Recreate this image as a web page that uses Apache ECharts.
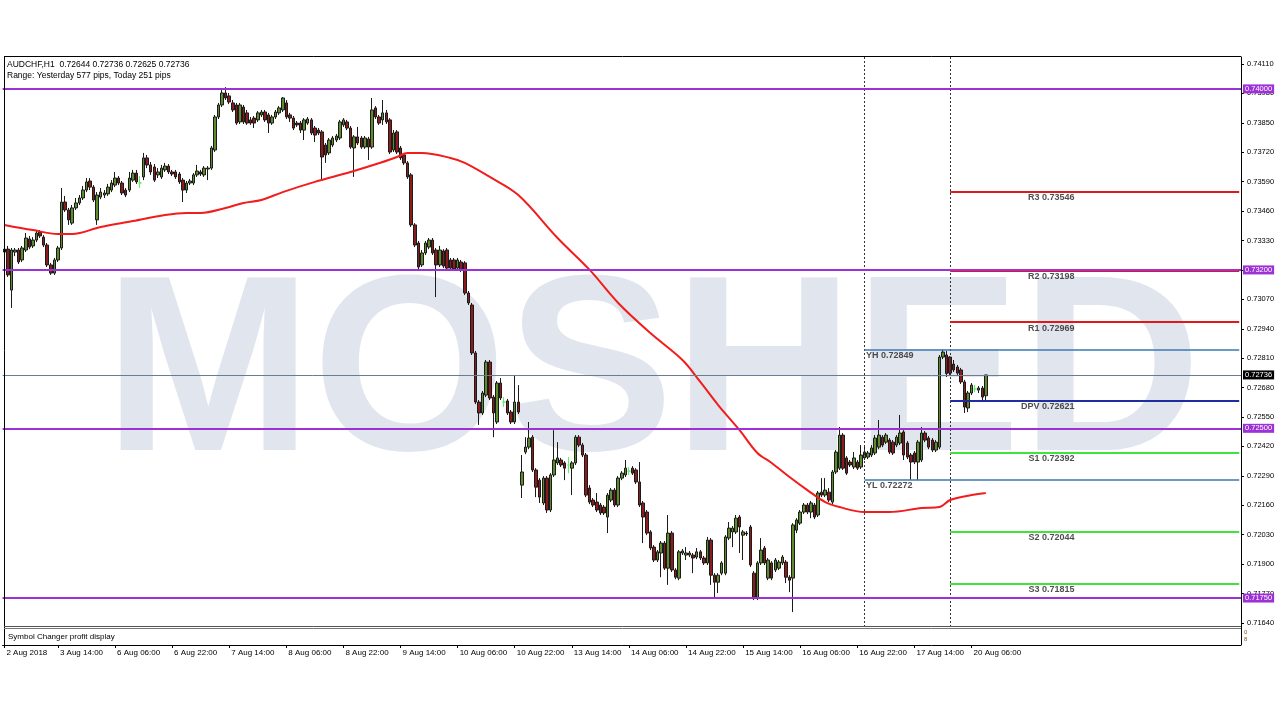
<!DOCTYPE html>
<html><head><meta charset="utf-8">
<script src="https://cdn.jsdelivr.net/npm/echarts@6/dist/echarts.min.js"></script>
<style>html,body{margin:0;padding:0;background:#fff}#c{width:1280px;height:720px}</style>
</head><body><div id="c"></div>
<script>
// ---------- DATA ----------
const symbolInfo = 'AUDCHF,H1  0.72644 0.72736 0.72625 0.72736';
const rangeInfo = 'Range: Yesterday 577 pips, Today 251 pips';
const subWindowTitle = 'Symbol Changer profit display';
const watermark = 'MOSHED';

// H1 candles [open, close, low, high]; 2 Aug 23:00 .. 3 Aug 23:00
const candlesAug2to3 = [
[0.73279,0.73292,0.73261,0.73306],[0.73292,0.73178,0.73169,0.73306],[0.73111,0.73288,0.73032,0.73297],[0.73279,0.73288,0.73261,0.73297],
[0.73288,0.73235,0.73226,0.73297],[0.73244,0.73297,0.73235,0.73306],[0.73288,0.73341,0.73279,0.73363],[0.73337,0.73301,0.73292,0.73350],
[0.73306,0.73332,0.73297,0.73345],[0.73332,0.73363,0.73323,0.73372],[0.73368,0.73350,0.73341,0.73376],[0.73345,0.73310,0.73301,0.73354],
[0.73310,0.73222,0.73213,0.73319],[0.73222,0.73186,0.73178,0.73231],[0.73186,0.73244,0.73178,0.73253],[0.73244,0.73297,0.73235,0.73306],
[0.73297,0.73500,0.73288,0.73562],[0.73500,0.73465,0.73456,0.73527],[0.73465,0.73421,0.73399,0.73474],[0.73407,0.73474,0.73399,0.73487],
[0.73474,0.73496,0.73465,0.73518],[0.73496,0.73518,0.73487,0.73531],[0.73518,0.73553,0.73509,0.73571],[0.73553,0.73589,0.73544,0.73606],
[0.73593,0.73566,0.73553,0.73606]
];
// 6 Aug 00:00 .. 10 Aug 23:00
const candlesAug6to10 = [
[0.73566,0.73509,0.73500,0.73575],[0.73421,0.73531,0.73399,0.73544],[0.73522,0.73544,0.73513,0.73562],[0.73531,0.73540,0.73518,0.73553],
[0.73536,0.73566,0.73527,0.73580],[0.73553,0.73584,0.73544,0.73597],[0.73575,0.73606,0.73566,0.73633],[0.73606,0.73584,0.73575,0.73615],
[0.73584,0.73540,0.73531,0.73593],[0.73553,0.73531,0.73522,0.73562],[0.73553,0.73606,0.73544,0.73633],[0.73597,0.73628,0.73589,0.73642],
[0.73628,0.73589,0.73580,0.73642],[0.73584,0.73584,0.73562,0.73615],[0.73611,0.73695,0.73597,0.73717],[0.73695,0.73664,0.73650,0.73708],
[0.73664,0.73633,0.73620,0.73677],[0.73655,0.73597,0.73589,0.73668],[0.73620,0.73633,0.73606,0.73650],[0.73611,0.73650,0.73602,0.73664],
[0.73642,0.73659,0.73633,0.73673],[0.73659,0.73633,0.73624,0.73668],[0.73633,0.73624,0.73615,0.73642],[0.73633,0.73611,0.73602,0.73642],
[0.73624,0.73589,0.73580,0.73633],[0.73597,0.73553,0.73500,0.73606],[0.73553,0.73584,0.73540,0.73593],[0.73584,0.73593,0.73575,0.73602],
[0.73584,0.73620,0.73575,0.73628],[0.73620,0.73637,0.73611,0.73664],[0.73633,0.73624,0.73615,0.73642],[0.73620,0.73650,0.73611,0.73659],
[0.73646,0.73650,0.73597,0.73659],[0.73650,0.73739,0.73642,0.73748],[0.73730,0.73876,0.73721,0.73885],[0.73876,0.73929,0.73867,0.73938],
[0.73929,0.73982,0.73920,0.73995],[0.73982,0.73960,0.73951,0.74008],[0.73969,0.73942,0.73933,0.73982],[0.73938,0.73907,0.73898,0.73951],
[0.73929,0.73849,0.73841,0.73938],[0.73854,0.73929,0.73845,0.73938],[0.73920,0.73854,0.73845,0.73929],[0.73894,0.73849,0.73841,0.73907],
[0.73863,0.73849,0.73841,0.73876],[0.73871,0.73849,0.73827,0.73880],[0.73863,0.73894,0.73854,0.73902],[0.73885,0.73898,0.73876,0.73907],
[0.73898,0.73863,0.73854,0.73907],[0.73885,0.73849,0.73805,0.73894],[0.73849,0.73876,0.73841,0.73885],[0.73876,0.73898,0.73867,0.73907],
[0.73894,0.73916,0.73885,0.73924],[0.73907,0.73960,0.73898,0.73964],[0.73938,0.73876,0.73867,0.73951],[0.73885,0.73871,0.73854,0.73894],
[0.73871,0.73827,0.73818,0.73880],[0.73849,0.73841,0.73832,0.73858],[0.73849,0.73818,0.73805,0.73858],[0.73818,0.73863,0.73774,0.73871],
[0.73849,0.73867,0.73841,0.73876],[0.73863,0.73805,0.73796,0.73871],[0.73827,0.73796,0.73765,0.73836],[0.73818,0.73805,0.73796,0.73827],
[0.73810,0.73699,0.73597,0.73818],[0.73752,0.73708,0.73673,0.73761],[0.73717,0.73774,0.73708,0.73783],[0.73752,0.73783,0.73743,0.73792],
[0.73774,0.73792,0.73765,0.73801],[0.73783,0.73854,0.73774,0.73863],[0.73841,0.73863,0.73832,0.73871],[0.73854,0.73827,0.73818,0.73863],
[0.73827,0.73743,0.73735,0.73836],[0.73739,0.73788,0.73611,0.73796],[0.73788,0.73761,0.73752,0.73832],[0.73783,0.73743,0.73735,0.73792],
[0.73743,0.73783,0.73735,0.73792],[0.73779,0.73743,0.73686,0.73788],[0.73743,0.73907,0.73735,0.73960],[0.73916,0.73876,0.73867,0.73924],
[0.73876,0.73849,0.73841,0.73885],[0.73863,0.73894,0.73841,0.73951],[0.73894,0.73854,0.73845,0.73907],[0.73863,0.73721,0.73712,0.73871],
[0.73730,0.73805,0.73721,0.73818],[0.73810,0.73721,0.73712,0.73818],[0.73739,0.73695,0.73686,0.73748],[0.73708,0.73673,0.73664,0.73717],
[0.73673,0.73611,0.73602,0.73681],[0.73620,0.73399,0.73390,0.73628],[0.73399,0.73310,0.73301,0.73407],[0.73319,0.73213,0.73204,0.73328],
[0.73222,0.73275,0.73213,0.73288],[0.73275,0.73319,0.73266,0.73328],[0.73301,0.73332,0.73292,0.73341],[0.73332,0.73275,0.73266,0.73341],
[0.73288,0.73222,0.73080,0.73297],[0.73222,0.73288,0.73213,0.73306],[0.73284,0.73217,0.73208,0.73292],[0.73288,0.73208,0.73200,0.73297],
[0.73244,0.73208,0.73200,0.73253],[0.73244,0.73204,0.73195,0.73253],[0.73208,0.73244,0.73200,0.73253],[0.73235,0.73200,0.73191,0.73244],
[0.73231,0.73098,0.73089,0.73239],[0.73098,0.73054,0.73045,0.73107],[0.73045,0.72833,0.72824,0.73054],[0.72833,0.72616,0.72607,0.72842],
[0.72616,0.72568,0.72515,0.72625],[0.72568,0.72656,0.72559,0.72665],[0.72647,0.72793,0.72638,0.72802],[0.72793,0.72634,0.72625,0.72802],
[0.72638,0.72568,0.72461,0.72647],[0.72528,0.72700,0.72519,0.72709],[0.72700,0.72634,0.72625,0.72722],[0.72616,0.72616,0.72594,0.72638],
[0.72621,0.72568,0.72559,0.72630],[0.72572,0.72528,0.72519,0.72581],[0.72528,0.72616,0.72519,0.72736],[0.72616,0.72572,0.72563,0.72691]
];
// 13 Aug 00:00 .. 17 Aug 23:00
const candlesAug13to17 = [
[0.72249,0.72307,0.72192,0.72382],[0.72395,0.72417,0.72386,0.72461],[0.72417,0.72457,0.72408,0.72528],[0.72461,0.72316,0.72307,0.72470],
[0.72316,0.72240,0.72196,0.72324],[0.72271,0.72196,0.72170,0.72280],[0.72170,0.72280,0.72161,0.72289],[0.72280,0.72139,0.72126,0.72289],
[0.72139,0.72294,0.72130,0.72302],[0.72294,0.72360,0.72285,0.72492],[0.72347,0.72369,0.72338,0.72439],[0.72360,0.72338,0.72329,0.72369],
[0.72347,0.72324,0.72271,0.72355],[0.72338,0.72338,0.72302,0.72373],[0.72324,0.72347,0.72205,0.72355],[0.72347,0.72461,0.72338,0.72470],
[0.72461,0.72426,0.72417,0.72470],[0.72426,0.72382,0.72373,0.72435],[0.72382,0.72205,0.72196,0.72391],[0.72236,0.72174,0.72165,0.72249],
[0.72183,0.72161,0.72152,0.72192],[0.72174,0.72139,0.72130,0.72214],[0.72161,0.72126,0.72117,0.72170],[0.72152,0.72126,0.72117,0.72161],
[0.72108,0.72205,0.72037,0.72214],[0.72183,0.72227,0.72174,0.72236],[0.72227,0.72161,0.72152,0.72236],[0.72161,0.72280,0.72152,0.72289],
[0.72280,0.72302,0.72271,0.72311],[0.72294,0.72324,0.72285,0.72360],[0.72311,0.72311,0.72294,0.72329],[0.72324,0.72302,0.72294,0.72333],
[0.72316,0.72263,0.72254,0.72324],[0.72263,0.72161,0.72152,0.72351],[0.72170,0.72108,0.71993,0.72179],[0.72130,0.72037,0.72028,0.72139],
[0.72042,0.71971,0.71962,0.72050],[0.71975,0.71918,0.71909,0.71984],[0.71918,0.71954,0.71909,0.71962],[0.71949,0.71993,0.71842,0.72002],
[0.71993,0.71882,0.71874,0.72002],[0.71882,0.72037,0.71808,0.72117],[0.72037,0.71874,0.71865,0.72046],[0.71874,0.71842,0.71833,0.71882],
[0.71838,0.71954,0.71829,0.71962],[0.71949,0.71958,0.71940,0.71967],[0.71940,0.71949,0.71918,0.71975],[0.71940,0.71949,0.71931,0.71958],
[0.71940,0.71927,0.71860,0.71949],[0.71931,0.71954,0.71922,0.71971],[0.71954,0.71927,0.71918,0.71962],[0.71927,0.71905,0.71896,0.71936],
[0.71905,0.72006,0.71896,0.72020],[0.72006,0.71851,0.71808,0.72015],[0.71851,0.71820,0.71750,0.71860],[0.71820,0.71851,0.71772,0.71860],
[0.71860,0.71905,0.71851,0.71913],[0.71860,0.72020,0.71851,0.72028],[0.72015,0.72059,0.72006,0.72086],[0.72042,0.72059,0.71975,0.72068],
[0.72042,0.72103,0.72033,0.72117],[0.72108,0.72064,0.71949,0.72117],[0.72028,0.72042,0.71918,0.72050],[0.72037,0.72033,0.72024,0.72046],
[0.72064,0.71896,0.71887,0.72073],[0.71860,0.71750,0.71741,0.71869],[0.71750,0.71905,0.71741,0.71913],[0.71905,0.71962,0.71896,0.72015],
[0.71971,0.71905,0.71896,0.71980],[0.71838,0.71918,0.71829,0.71927],[0.71905,0.71838,0.71829,0.71913],[0.71874,0.71918,0.71865,0.71927],
[0.71882,0.71909,0.71874,0.71918],[0.71905,0.71931,0.71896,0.71940],[0.71909,0.71842,0.71816,0.71918],[0.71842,0.71829,0.71776,0.71851],
[0.71838,0.72073,0.71688,0.72081],[0.72050,0.72095,0.72037,0.72103],[0.72081,0.72130,0.72073,0.72139],[0.72130,0.72161,0.72121,0.72170],
[0.72161,0.72130,0.72121,0.72170],[0.72130,0.72170,0.72103,0.72179],[0.72161,0.72108,0.72099,0.72170],[0.72117,0.72214,0.72108,0.72223],
[0.72218,0.72205,0.72196,0.72280],[0.72205,0.72227,0.72196,0.72280],[0.72218,0.72183,0.72174,0.72236],[0.72174,0.72307,0.72165,0.72316],
[0.72307,0.72395,0.72298,0.72404],[0.72324,0.72470,0.72316,0.72506],[0.72470,0.72324,0.72316,0.72479],[0.72369,0.72302,0.72294,0.72377],
[0.72351,0.72338,0.72329,0.72360],[0.72329,0.72369,0.72320,0.72395],[0.72351,0.72324,0.72316,0.72360],[0.72329,0.72382,0.72320,0.72426],
[0.72369,0.72395,0.72360,0.72426],[0.72373,0.72391,0.72364,0.72400],[0.72382,0.72413,0.72373,0.72426],[0.72391,0.72457,0.72382,0.72470],
[0.72417,0.72470,0.72408,0.72537],[0.72461,0.72426,0.72417,0.72470],[0.72439,0.72470,0.72431,0.72479],[0.72448,0.72395,0.72386,0.72457],
[0.72439,0.72391,0.72382,0.72448],[0.72426,0.72461,0.72417,0.72470],[0.72435,0.72479,0.72426,0.72559],[0.72484,0.72382,0.72360,0.72492],
[0.72435,0.72373,0.72364,0.72444],[0.72382,0.72351,0.72272,0.72391],[0.72391,0.72351,0.72342,0.72400],[0.72351,0.72439,0.72272,0.72448],
[0.72360,0.72479,0.72351,0.72506],[0.72479,0.72448,0.72439,0.72488],[0.72457,0.72417,0.72408,0.72466],[0.72448,0.72404,0.72395,0.72457],
[0.72404,0.72439,0.72395,0.72448],[0.72417,0.72815,0.72408,0.72824],[0.72815,0.72837,0.72806,0.72849],[0.72824,0.72742,0.72727,0.72842]
];
// 20 Aug 00:00 .. 10:00
const candlesAug20 = [
[0.72815,0.72744,0.72736,0.72819],[0.72784,0.72758,0.72749,0.72802],[0.72771,0.72744,0.72736,0.72780],[0.72758,0.72705,0.72696,0.72767],
[0.72705,0.72594,0.72568,0.72714],[0.72590,0.72656,0.72572,0.72665],[0.72656,0.72691,0.72647,0.72700],[0.72674,0.72674,0.72660,0.72691],
[0.72669,0.72678,0.72656,0.72687],[0.72678,0.72638,0.72616,0.72687],[0.72644,0.72736,0.72625,0.72736]
];
// moving average samples [bar index, value]
const maPoints = [
[0,0.73399],[8,0.73376],[15,0.73359],[19,0.73359],[27,0.73390],[36,0.73416],[45,0.73443],[51,0.73452],[55,0.73452],
[62,0.73474],[67,0.73496],[72,0.73509],[78,0.73544],[87,0.73589],[97,0.73633],[106,0.73677],[110,0.73699],[113,0.73717],
[117,0.73717],[125,0.73695],[129,0.73673],[136,0.73611],[144,0.73531],[155,0.73341],[164,0.73200],[172,0.73054],
[181,0.72921],[190,0.72802],[195,0.72705],[200,0.72603],[206,0.72492],[211,0.72391],[215,0.72347],[220,0.72285],
[225,0.72227],[230,0.72174],[234,0.72152],[241,0.72130],[248,0.72130],[257,0.72148],[262,0.72152],[265,0.72183],
[271,0.72205],[275,0.72214]
];
const levels = [0.74000, 0.73200, 0.72500, 0.71750];
const pivotNames = ['R3','R2','R1','DPV','S1','S2','S3'];
const pivotValues = [0.73546, 0.73198, 0.72969, 0.72621, 0.72392, 0.72044, 0.71815];
const yesterdayNames = ['YH','YL'];
const yesterdayValues = [0.72849, 0.72272];
const bidPrice = 0.72736;
const yTicks = [0.71640,0.71770,0.71900,0.72030,0.72160,0.72290,0.72420,0.72550,0.72680,0.72810,
                0.72940,0.73070,0.73200,0.73330,0.73460,0.73590,0.73720,0.73850,0.73980,0.74110];
const xTickIndex = [0,15,31,47,63,79,95,111,127,143,159,175,191,207,223,239,255,271];
const xTickLabels = ['2 Aug 2018','3 Aug 14:00','6 Aug 06:00','6 Aug 22:00','7 Aug 14:00','8 Aug 06:00','8 Aug 22:00',
  '9 Aug 14:00','10 Aug 06:00','10 Aug 22:00','13 Aug 14:00','14 Aug 06:00','14 Aug 22:00','15 Aug 14:00',
  '16 Aug 06:00','16 Aug 22:00','17 Aug 14:00','20 Aug 06:00'];
const daySeparators = [241, 265]; // 17 Aug 00:00, 20 Aug 00:00
const emptyBarsRight = 71;

// ---------- BUILD ----------
const candles = [].concat(candlesAug2to3, candlesAug6to10, candlesAug13to17, candlesAug20);
const months = ['Jan','Feb','Mar','Apr','May','Jun','Jul','Aug','Sep','Oct','Nov','Dec'];
const categories = [];
let t = Date.UTC(2018, 7, 2, 23);
while (categories.length < candles.length) {
  const d = new Date(t), wd = d.getUTCDay();
  if (wd !== 0 && wd !== 6) categories.push(d.getUTCDate() + ' ' + months[d.getUTCMonth()] + ' ' + String(d.getUTCHours()).padStart(2, '0') + ':00');
  t += 3600000;
}
for (let i = 0; i < emptyBarsRight; i++) categories.push('');
const lastIdx = categories.length - 1;

const FONT = 'Liberation Sans';
const ySize = 7.5;

const PURPLE = '#9c31d6', RED = '#e01818', GREEN = '#3fe23f', NAVY = '#1f2d9e', STEEL = '#3b79b4';
const pivotColor = n => n[0] === 'R' ? RED : (n[0] === 'S' ? GREEN : NAVY);

const chart = echarts.init(document.getElementById('c'), null, {renderer: 'canvas'});
chart.setOption({
  animation: false,
  backgroundColor: '#ffffff',
  grid: {left: 2.6, right: 39, top: 57, bottom: 93, containLabel: false},
  xAxis: {
    type: 'category', data: categories, boundaryGap: true, offset: 18,
    axisLine: {show: true, lineStyle: {color: '#000', width: 1}},
    axisTick: {show: true, alignWithLabel: true, length: 3, interval: i => xTickIndex.indexOf(i) >= 0, lineStyle: {color: '#000'}},
    axisLabel: {interval: i => xTickIndex.indexOf(i) >= 0, align: 'left', margin: 4, padding: [0, 0, 0, 2],
      fontSize: 8, fontFamily: FONT, color: '#000',
      formatter: (v, i) => { const k = xTickIndex.indexOf(i); return k >= 0 ? xTickLabels[k] : v; }},
    splitLine: {show: false}
  },
  yAxis: {
    type: 'value', position: 'right', min: 0.71622, max: 0.74141, scale: true,
    axisLine: {show: true, lineStyle: {color: '#000', width: 1}},
    axisTick: {show: true, length: 3, customValues: yTicks, lineStyle: {color: '#000'}},
    axisLabel: {customValues: yTicks, formatter: v => v.toFixed(5), fontSize: ySize, fontFamily: FONT, color: '#000', margin: 6},
    splitLine: {show: false}
  },
  graphic: [
    {type: 'text', x: 104, y: 381, scaleX: 1.0, z: -10, silent: true,
      style: {text: watermark, fontSize: 250, fontWeight: 'bold', fontFamily: FONT, fill: '#e1e5ee', textVerticalAlign: 'middle'}},
    {type: 'text', x: 7, y: 65, z: 50, style: {text: symbolInfo, fontSize: 8.5, fontFamily: FONT, fill: '#000', textVerticalAlign: 'middle'}},
    {type: 'text', x: 7, y: 75.5, z: 50, style: {text: rangeInfo, fontSize: 8.5, fontFamily: FONT, fill: '#000', textVerticalAlign: 'middle'}},
    {type: 'line', z: 50, shape: {x1: 4, y1: 56.5, x2: 1241, y2: 56.5}, style: {stroke: '#000', lineWidth: 1}},
    {type: 'line', z: 50, shape: {x1: 4.5, y1: 56, x2: 4.5, y2: 645}, style: {stroke: '#000', lineWidth: 1}},
    {type: 'line', z: 50, shape: {x1: 4, y1: 626.5, x2: 1241, y2: 626.5}, style: {stroke: '#555', lineWidth: 1}},
    {type: 'line', z: 50, shape: {x1: 4, y1: 628.5, x2: 1241, y2: 628.5}, style: {stroke: '#777', lineWidth: 1}},
    {type: 'line', z: 50, shape: {x1: 1241.5, y1: 626, x2: 1241.5, y2: 645}, style: {stroke: '#000', lineWidth: 1}},
    {type: 'text', x: 8, y: 637, z: 50, style: {text: subWindowTitle, fontSize: 8, fontFamily: FONT, fill: '#000', textVerticalAlign: 'middle'}},
    {type: 'text', x: 1244, y: 632, z: 50, style: {text: '0', fontSize: 6, fontFamily: FONT, fill: '#8a5a20', textVerticalAlign: 'middle'}},
    {type: 'text', x: 1244, y: 639, z: 50, style: {text: '8', fontSize: 6, fontFamily: FONT, fill: '#8a5a20', textVerticalAlign: 'middle'}}
  ],
  series: [
    {type: 'line', name: 'separators', data: [], z: 2,
      markLine: {silent: true, symbol: ['none', 'none'], label: {show: false}, precision: 5,
        lineStyle: {color: '#333', type: [2, 2], width: 1},
        data: daySeparators.map(i => ({xAxis: i}))}},
    {type: 'line', name: 'bid', data: [], z: 2,
      markLine: {silent: true, symbol: ['none', 'none'], precision: 5,
        lineStyle: {color: '#6a7d90', type: 'solid', width: 1},
        label: {show: true, position: 'end', distance: 2, formatter: () => bidPrice.toFixed(5), color: '#fff',
          backgroundColor: '#000', padding: [1, 2, 0, 2], fontSize: ySize, fontFamily: FONT},
        data: [{yAxis: bidPrice}]}},
    {type: 'candlestick', name: 'AUDCHF', data: candles, barWidth: 3, z: 3,
      itemStyle: {color: '#5e8c2c', color0: '#8c1b1b', borderColor: '#1b1b1b', borderColor0: '#1b1b1b',
        borderColorDoji: '#5ef05e', borderWidth: 1}},
    {type: 'line', name: 'MA', data: maPoints, smooth: 0.35, symbol: 'none', z: 4,
      lineStyle: {color: '#f21c1c', width: 2}},
    {type: 'line', name: 'pivots', data: [], z: 5,
      markLine: {silent: true, symbol: ['none', 'none'], label: {show: false}, precision: 5,
        data: pivotNames.map((n, i) => [
          {coord: [265, pivotValues[i]], lineStyle: {color: pivotColor(n), width: 2, type: 'solid'}},
          {coord: [lastIdx, pivotValues[i]], lineStyle: {color: pivotColor(n), width: 2, type: 'solid'}}])
          .concat(yesterdayValues.map(v => [
          {coord: [241, v], lineStyle: {color: STEEL, width: 1.5, type: 'solid'}},
          {coord: [lastIdx, v], lineStyle: {color: STEEL, width: 1.5, type: 'solid'}}]))}},
    {type: 'line', name: 'levels', data: [], z: 6,
      markLine: {silent: true, symbol: ['none', 'none'], precision: 5,
        lineStyle: {color: PURPLE, type: 'solid', width: 2},
        label: {show: true, position: 'end', distance: 2, formatter: p => Number(p.value).toFixed(5), color: '#fff',
          backgroundColor: PURPLE, padding: [1, 2, 0, 2], fontSize: ySize, fontFamily: FONT},
        data: levels.map(v => ({yAxis: v}))}},
    {type: 'scatter', name: 'pivotLabels', symbolSize: 1, itemStyle: {color: 'rgba(0,0,0,0)'}, z: 7, silent: true,
      data: pivotNames.map((n, i) => ({value: [300, pivotValues[i]], label: {formatter: n + ' ' + pivotValues[i].toFixed(5)}})),
      label: {show: true, position: [0, 2], align: 'right', verticalAlign: 'top', fontSize: 9, fontWeight: 'bold', fontFamily: FONT, color: '#222'}},
    {type: 'scatter', name: 'yLabels', symbolSize: 1, itemStyle: {color: 'rgba(0,0,0,0)'}, z: 7, silent: true,
      data: yesterdayNames.map((n, i) => ({value: [241, yesterdayValues[i]], label: {formatter: n + ' ' + yesterdayValues[i].toFixed(5)}})),
      label: {show: true, position: [2, 2], align: 'left', verticalAlign: 'top', fontSize: 9, fontWeight: 'bold', fontFamily: FONT, color: '#222'}}
  ]
});
</script></body></html>
